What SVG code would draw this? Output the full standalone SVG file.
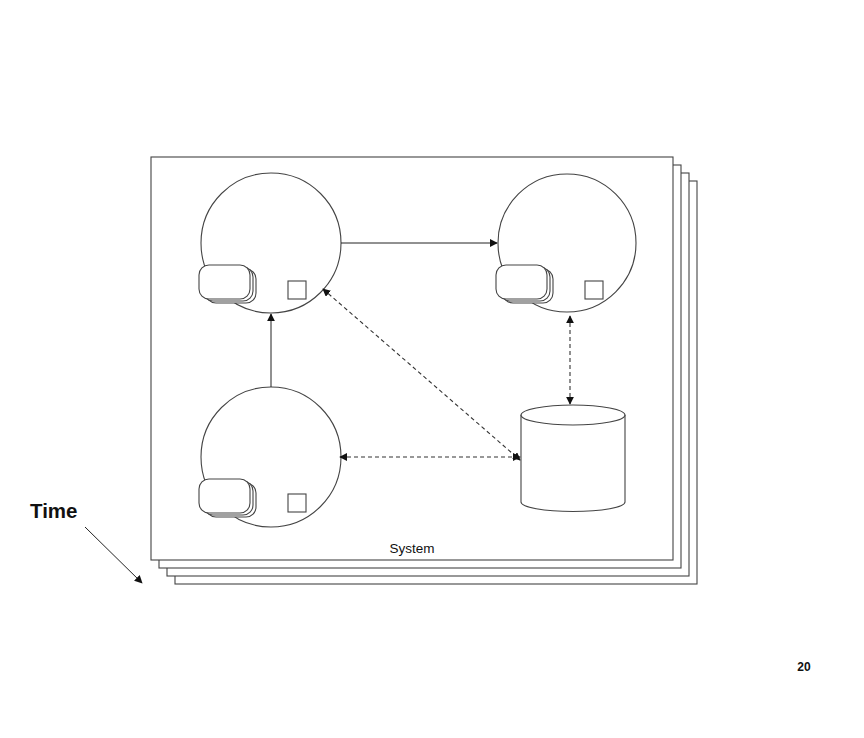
<svg xmlns="http://www.w3.org/2000/svg" width="864" height="738" viewBox="0 0 864 738">
<defs>
<marker id="ah" viewBox="0 0 10 10" refX="9" refY="5" markerWidth="8" markerHeight="8" orient="auto-start-reverse" markerUnits="userSpaceOnUse">
<path d="M0,0 L10,5 L0,10 z" fill="#111"/>
</marker>
<g id="pill">
<rect x="206" y="269" width="50" height="34" rx="10" class="s"/>
<rect x="203" y="267" width="50" height="34" rx="10" class="s"/>
<rect x="199" y="265" width="51" height="34" rx="10" class="s"/>
</g>
</defs>
<style>
.s{fill:#fff;stroke:#444;stroke-width:1.1}
.c{fill:none;stroke:#222;stroke-width:1}
.d{fill:none;stroke:#333;stroke-width:1.1;stroke-dasharray:4 3}
text{font-family:"Liberation Sans",Arial,sans-serif;fill:#111}
</style>
<rect width="864" height="738" fill="#fff"/>
<g id="frames">
<rect x="175" y="181" width="522" height="403" class="s"/>
<rect x="167" y="173" width="522" height="403" class="s"/>
<rect x="159" y="165" width="522" height="403" class="s"/>
<rect x="151" y="157" width="522" height="403" class="s"/>
<text x="412" y="553" font-size="13.5" text-anchor="middle">System</text>
</g>
<g id="node-tl">
<circle cx="271" cy="243" r="70" class="s"/>
<use href="#pill"/>
<rect x="288" y="281" width="18" height="18" class="s"/>
</g>
<g id="node-tr">
<circle cx="567" cy="243" r="69" class="s"/>
<use href="#pill" x="297"/>
<rect x="585" y="281" width="18" height="18" class="s"/>
</g>
<g id="node-bl">
<circle cx="271" cy="457" r="70" class="s"/>
<use href="#pill" y="214"/>
<rect x="288" y="494" width="18" height="18" class="s"/>
</g>
<g id="node-db">
<path d="M521,415 L521,502 A52,9.5 0 0 0 625,502 L625,415" class="s"/>
<ellipse cx="573" cy="415" rx="52" ry="10" class="s"/>
</g>
<g id="connectors">
<line x1="341" y1="243" x2="497" y2="243" class="c" marker-end="url(#ah)"/>
<line x1="271" y1="387" x2="271" y2="314" class="c" marker-end="url(#ah)"/>
<line x1="323" y1="289" x2="520" y2="460" class="d" marker-start="url(#ah)" marker-end="url(#ah)"/>
<line x1="340" y1="457" x2="520" y2="457" class="d" marker-start="url(#ah)" marker-end="url(#ah)"/>
<line x1="570" y1="316" x2="570" y2="404" class="d" marker-start="url(#ah)" marker-end="url(#ah)"/>
</g>
<g id="time">
<text x="30" y="518" font-size="20.5" font-weight="bold">Time</text>
<line x1="85" y1="527" x2="142" y2="583" class="c" marker-end="url(#ah)"/>
</g>
<text x="804" y="671" font-size="12" font-weight="bold" text-anchor="middle">20</text>
</svg>
